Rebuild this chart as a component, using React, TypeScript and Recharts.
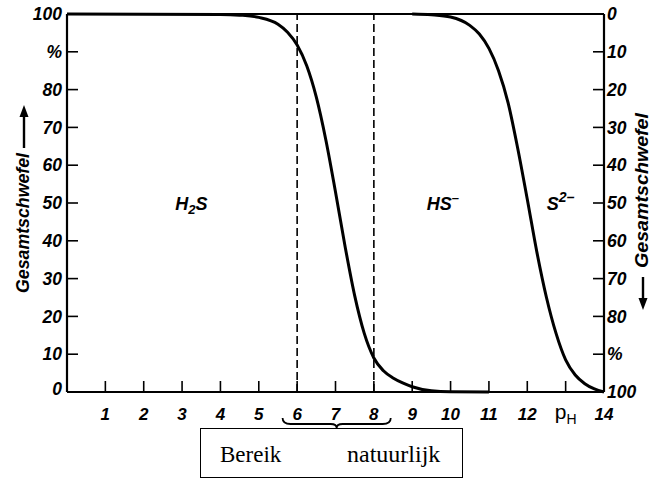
import React from 'react';
import { LineChart, Line, XAxis, YAxis, ReferenceLine, ReferenceDot, ReferenceArea } from 'recharts';

// ---- data ----
const phTicks = [1, 2, 3, 4, 5, 6, 7, 8, 9, 10, 11, 12, 13, 14];
const phTickLabels = ['1', '2', '3', '4', '5', '6', '7', '8', '9', '10', '11', '12', 'pH', '14'];
const percentTicks = [0, 10, 20, 30, 40, 50, 60, 70, 80, 90, 100];
const leftTickLabels = ['0', '10', '20', '30', '40', '50', '60', '70', '80', '%', '100'];
const rightTickLabels = ['0', '10', '20', '30', '40', '50', '60', '70', '80', '%', '100'];

// H2S share of total sulfur (left axis)
const h2sPh = [0, 4, 4.5, 5, 5.5, 5.75, 6, 6.25, 6.5, 6.75, 7, 7.25, 7.5, 7.75, 8, 8.25, 8.5, 8.75, 9, 9.5, 10, 11];
const h2sPercent = [100, 99.9, 99.7, 99.1, 97.3, 95.2, 91.8, 86.3, 78, 66.6, 52.9, 38.5, 25.5, 15.5, 9, 5.6, 3.7, 2.4, 1.4, 0.3, 0.05, 0];

// H2S + HS- share (left axis) = 100 - S2- share (right axis)
const hsPh = [9, 9.5, 10, 10.5, 10.75, 11, 11.25, 11.5, 11.75, 12, 12.25, 12.5, 12.75, 13, 13.25, 13.5, 13.75, 14];
const hsPercent = [100, 99.8, 99.2, 97, 94.7, 90.9, 85, 76.5, 64.5, 51, 37, 25, 15.5, 8.5, 4.5, 2.2, 0.8, 0];

const dashedPh = [6, 8];
const braceRange = [5.62, 8.44];
const speciesNames = ['H2S', 'HS-', 'S2-'];
const speciesPh = [2.82, 9.38, 12.51];
const speciesLevel = 50;

const h2sData = h2sPh.map((x, i) => ({ ph: x, v: h2sPercent[i] }));
const hsData = hsPh.map((x, i) => ({ ph: x, v: hsPercent[i] }));

const tickFont = '"Liberation Sans", Arial, sans-serif';

const XTick = (props: any) => {
  const { x, y, payload } = props;
  const v = payload.value;
  const label = phTickLabels[phTicks.indexOf(v)];
  return (
    <g>
      {v !== 14 && <line x1={x} y1={y} x2={x} y2={y - 11} stroke="#000" strokeWidth={1.6} />}
      {label === 'pH' ? (
        <text x={x} y={y + 27} textAnchor="middle" fontFamily={tickFont} fontSize={21} fill="#000">
          p<tspan fontSize={14} dy={5}>H</tspan>
        </text>
      ) : (
        <text x={x} y={y + 22} dy="0.35em" textAnchor="middle" fontFamily={tickFont} fontSize={17} fontWeight="bold" fontStyle="italic" fill="#000">
          {label}
        </text>
      )}
    </g>
  );
};

const LeftTick = (props: any) => {
  const { x, y, payload } = props;
  const v = payload.value;
  const label = leftTickLabels[percentTicks.indexOf(v)];
  return (
    <g>
      {v !== 0 && v !== 100 && <line x1={x} y1={y} x2={x + 11} y2={y} stroke="#000" strokeWidth={1.6} />}
      <text x={x - 5} y={v === 0 ? y - 3 : y} dy="0.35em" textAnchor="end" fontFamily={tickFont} fontSize={17.5} fontWeight="bold" fontStyle="italic" fill="#000">
        {label}
      </text>
    </g>
  );
};

const RightTick = (props: any) => {
  const { x, y, payload } = props;
  const v = payload.value;
  const label = rightTickLabels[percentTicks.indexOf(v)];
  return (
    <g>
      {v !== 0 && v !== 100 && <line x1={x} y1={y} x2={x - 11} y2={y} stroke="#000" strokeWidth={1.6} />}
      <text x={x + 3} y={y} dy="0.35em" textAnchor="start" fontFamily={tickFont} fontSize={17.5} fontWeight="bold" fontStyle="italic" fill="#000">
        {label}
      </text>
    </g>
  );
};

const LeftTitle = (props: any) => {
  const vb = props.viewBox || { x: 0, y: 14, width: 67, height: 378 };
  const cx = vb.x + 23;
  const cy = vb.y + 185;
  return (
    <g transform={`translate(${cx},${cy}) rotate(-90)`}>
      <text x={-94} y={0} dy="0.35em" textAnchor="start" fontFamily={tickFont} fontSize={18} fontWeight="bold" fontStyle="italic" fill="#000" textLength={140} lengthAdjust="spacingAndGlyphs">
        Gesamtschwefel
      </text>
      <line x1={51} y1={1} x2={85} y2={1} stroke="#000" strokeWidth={2.4} />
      <path d="M 94 1 L 82 -3.5 L 82 5.5 Z" fill="#000" />
    </g>
  );
};

const RightTitle = (props: any) => {
  const vb = props.viewBox || { x: 604, y: 14, width: 49, height: 378 };
  const cx = vb.x + 38;
  const cy = vb.y + 197;
  return (
    <g transform={`translate(${cx},${cy}) rotate(-90)`}>
      <text x={-57} y={0} dy="0.35em" textAnchor="start" fontFamily={tickFont} fontSize={18} fontWeight="bold" fontStyle="italic" fill="#000" textLength={155} lengthAdjust="spacingAndGlyphs">
        Gesamtschwefel
      </text>
      <line x1={-66} y1={1} x2={-90} y2={1} stroke="#000" strokeWidth={2.4} />
      <path d="M -99 1 L -87 -3.5 L -87 5.5 Z" fill="#000" />
    </g>
  );
};

const SpeciesLabel = (name: string) => (props: any) => {
  const { cx, cy } = props;
  const common = { fontFamily: tickFont, fontWeight: 'bold' as const, fontStyle: 'italic' as const, fill: '#000' };
  if (name === 'H2S') {
    return (
      <text x={cx} y={cy + 7} fontSize={18} {...common}>
        H<tspan fontSize={13} dy={4}>2</tspan><tspan dy={-4}>S</tspan>
      </text>
    );
  }
  if (name === 'HS-') {
    return (
      <text x={cx} y={cy + 7} fontSize={18} {...common}>
        HS<tspan fontSize={13} dy={-8}>–</tspan>
      </text>
    );
  }
  return (
    <text x={cx} y={cy + 7} fontSize={18} {...common}>
      S<tspan fontSize={14} dy={-8}>2–</tspan>
    </text>
  );
};

const Brace = (props: any) => {
  const { x, y, width, height } = props;
  const b = y + height;
  const x2 = x + width;
  const mid = x + width / 2;
  const d = `M ${x} ${b + 26} Q ${x} ${b + 32} ${x + 8} ${b + 32} L ${mid - 6} ${b + 32} Q ${mid} ${b + 32} ${mid} ${b + 36} Q ${mid} ${b + 32} ${mid + 6} ${b + 32} L ${x2 - 8} ${b + 32} Q ${x2} ${b + 32} ${x2} ${b + 26}`;
  return <path d={d} fill="none" stroke="#000" strokeWidth={1.8} />;
};

export default function App() {
  return (
    <div style={{ position: 'absolute', left: 0, top: 0, width: 653, height: 478, background: '#fff' }}>
      <LineChart width={653} height={478} margin={{ top: 14, right: 0, bottom: 0, left: 0 }}>
        <XAxis
          dataKey="ph"
          type="number"
          domain={[0, 14]}
          ticks={phTicks}
          interval={0}
          height={86}
          tickSize={0}
          tickMargin={0}
          tickLine={false}
          axisLine={{ stroke: '#000', strokeWidth: 2.2 }}
          tick={<XTick />}
        />
        <YAxis
          yAxisId="left"
          type="number"
          domain={[0, 100]}
          ticks={percentTicks}
          interval={0}
          width={67}
          tickSize={0}
          tickMargin={0}
          tickLine={false}
          axisLine={{ stroke: '#000', strokeWidth: 2.2 }}
          tick={<LeftTick />}
          label={{ content: <LeftTitle /> }}
        />
        <YAxis
          yAxisId="right"
          orientation="right"
          type="number"
          domain={[0, 100]}
          allowDataOverflow
          reversed
          ticks={percentTicks}
          interval={0}
          width={49}
          tickSize={0}
          tickMargin={0}
          tickLine={false}
          axisLine={{ stroke: '#000', strokeWidth: 2.2 }}
          tick={<RightTick />}
          label={{ content: <RightTitle /> }}
        />
        <ReferenceLine yAxisId="left" y={100} stroke="#000" strokeWidth={2.2} />
        {dashedPh.map((p) => (
          <ReferenceLine key={p} yAxisId="left" x={p} stroke="#000" strokeWidth={1.6} strokeDasharray="8 4" />
        ))}
        <ReferenceArea yAxisId="left" x1={braceRange[0]} x2={braceRange[1]} ifOverflow="visible" shape={<Brace />} />
        {speciesNames.map((n, i) => (
          <ReferenceDot key={n} yAxisId="left" x={speciesPh[i]} y={speciesLevel} r={0} shape={SpeciesLabel(n)} />
        ))}
        <Line yAxisId="left" data={h2sData} dataKey="v" type="monotone" stroke="#000" strokeWidth={3} dot={false} isAnimationActive={false} />
        <Line yAxisId="left" data={hsData} dataKey="v" type="monotone" stroke="#000" strokeWidth={3} dot={false} isAnimationActive={false} />
      </LineChart>
      <div
        style={{
          position: 'absolute',
          left: 200,
          top: 428,
          width: 263,
          height: 50,
          boxSizing: 'border-box',
          border: '1.5px solid #000',
          fontFamily: '"Liberation Serif", "Times New Roman", serif',
          fontSize: 23,
          lineHeight: '23px',
        }}
      >
        <span style={{ position: 'absolute', left: 19, top: 14 }}>Bereik</span>
        <span style={{ position: 'absolute', left: 146, top: 14, fontSize: 24 }}>natuurlijk</span>
      </div>
    </div>
  );
}
